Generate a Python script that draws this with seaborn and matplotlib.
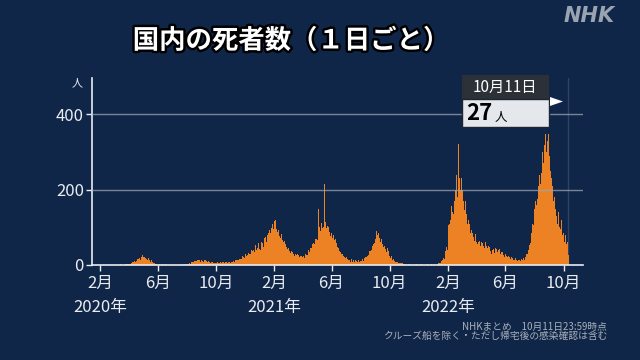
import seaborn as sns
import pandas as pd
import matplotlib.pyplot as plt
import matplotlib.dates as mdates
import matplotlib.patheffects as pe
import matplotlib.transforms as mtransforms
from matplotlib.patches import Rectangle, Polygon

# daily deaths, one line per month
deaths_2020 = (  # from Feb 1
    [0,0,0,0,0,0,0,0,0,0,0,0,1,0,0,0,0,0,0,1,0,1,0,0,1,0,0,1,0]
    + [1,0,1,1,0,1,1,0,1,2,1,2,1,0,2,1,1,2,1,2,1,1,2,0,3,2,1,2,1,3,4]
    + [3,5,2,4,3,6,5,4,8,6,7,9,6,10,12,9,14,11,10,16,13,17,15,19,14,12,20,22,18,26]
    + [29,22,18,16,20,24,19,21,17,14,12,15,18,16,13,10,8,9,12,10,8,7,5,6,4,5,3,2,3,2,1]
    + [1,2,0,1,2,1,0,1,0,1,2,1,0,1,0,1,0,2,18,1,0,1,0,1,2,0,1,0,1,0]
    + [1,0,0,1,0,1,0,1,0,1,0,0,1,1,0,1,0,1,0,1,0,1,2,0,1,1,2,3,2,1,3]
    + [2,1,3,4,2,5,6,4,3,5,7,6,8,9,7,5,10,12,9,11,13,10,8,12,15,13,14,12,10,9,13]
    + [12,14,11,9,8,10,13,11,9,12,14,10,8,7,9,11,13,9,7,6,5,8,10,7,6,5,4,6,8,7]
    + [6,5,4,7,8,6,5,4,6,8,7,5,4,6,7,5,8,6,4,3,5,7,6,8,5,4,6,7,9,8,6]
    + [5,7,8,6,9,11,10,8,7,12,14,11,9,13,15,12,10,14,18,16,13,17,20,15,22,24,19,21,26,18]
    + [24,30,28,33,25,22,27,35,32,38,30,34,28,26,40,44,36,42,39,31,35,48,52,45,50,41,38,46,54,58,49]
)
deaths_2021 = (
    [42,45,40,55,60,63,58,52,49,64,72,68,75,70,66,61,74,80,88,85,78,92,96,84,104,98,90,110,102,95,112]
    + [118,106,120,98,112,96,90,88,104,92,85,78,80,72,68,82,76,66,70,62,58,64,60,55,52,57,48,45]
    + [42,50,46,40,38,36,33,30,38,41,35,32,29,27,25,33,30,28,26,24,22,28,31,26,24,21,20,23,27,25,22]
    + [20,26,24,22,19,25,30,28,26,33,29,27,36,40,38,35,42,45,48,44,52,55,50,58,62,56,65,70,72,68]
    + [80,74,66,62,150,92,102,96,90,106,112,118,99,108,100,94,216,110,114,105,98,92,86,104,112,100,95,88,84,78,92]
    + [85,78,72,90,80,74,66,62,70,64,58,55,50,48,52,46,42,38,40,35,32,30,34,28,26,24,22,20,25,18]
    + [16,20,14,12,15,18,13,11,14,10,9,12,15,11,8,10,13,9,7,11,12,14,10,8,9,12,11,13,10,9,12]
    + [11,14,10,13,15,12,10,16,18,14,20,24,22,19,25,28,30,26,33,36,32,38,42,40,45,50,48,55,52,58,62]
    + [68,75,89,72,80,66,70,84,78,72,65,60,58,68,62,56,52,48,45,50,54,42,38,35,40,44,32,30,36,28]
    + [25,22,18,20,24,16,14,12,15,18,11,10,9,13,8,7,9,11,6,5,8,4,6,5,3,4,6,5,3,2,4]
    + [3,2,1,4,2,1,0,2,3,1,2,0,1,3,1,0,2,1,3,0,1,2,0,1,1,2,0,1,3,1]
    + [0,1,2,1,0,1,3,1,0,2,1,1,0,2,1,3,0,1,2,1,0,1,2,0,1,1,0,2,1,0,1]
)
deaths_2022 = (  # to Oct 11
    [1,0,2,1,0,2,1,3,2,1,4,3,5,4,6,5,8,10,12,13,16,18,20,15,30,36,42,48,54,40,62]
    + [105,98,89,110,130,120,115,157,150,140,120,135,128,170,236,200,230,240,236,180,210,322,260,250,230,245,200,185]
    + [230,220,200,190,170,150,145,160,170,150,135,125,110,100,120,130,110,95,90,85,80,92,100,85,80,75,70,65,78,82,70]
    + [60,58,55,52,62,68,65,58,54,50,48,60,64,58,52,50,48,45,55,62,56,50,48,44,42,50,55,48,44,40]
    + [38,35,30,34,40,45,42,36,32,38,44,48,42,38,34,30,40,46,42,36,32,30,28,34,38,35,30,27,25,22,28]
    + [30,28,25,22,20,18,24,26,22,20,18,16,15,20,22,18,16,14,13,12,16,18,15,13,12,11,109,14,16,12]
    + [13,11,10,12,15,14,12,16,18,15,14,20,22,25,28,24,30,34,40,46,52,60,58,66,72,85,100,110,120,105,140]
    + [150,165,170,180,160,155,175,200,210,230,240,220,215,260,250,245,280,300,290,270,255,320,310,347,340,300,290,330,310,347,320]
    + [290,300,250,260,220,230,270,210,190,170,160,180,200,150,140,130,120,110,115,140,130,100,90,95,85,110,120,95,80,75]
    + [85,70,60,90,80,75,55,45,60,50,27]
)

title = "国内の死者数（１日ごと）"
note1 = "NHKまとめ　10月11日23:59時点"
note2 = "クルーズ船を除く・ただし帰宅後の感染確認は含む"

bg = "#102648"
orange = "#ed8224"
fg = "#e9ecf0"

dates = (list(pd.date_range("2020-02-01", periods=len(deaths_2020)))
         + list(pd.date_range("2021-01-01", periods=len(deaths_2021)))
         + list(pd.date_range("2022-01-01", periods=len(deaths_2022))))
df = pd.DataFrame({"date": dates, "deaths": deaths_2020 + deaths_2021 + deaths_2022})
df["x"] = mdates.date2num(df["date"])

sns.set_theme(style="dark")
plt.rcParams["font.family"] = ["Noto Sans CJK JP", "DejaVu Sans"]

fig = plt.figure(figsize=(6.4, 3.6), dpi=100, facecolor=bg)
ax = fig.add_axes([0.1442, 0.2639, 0.767, 0.5186], facecolor=bg)

sns.histplot(data=df, x="x", weights="deaths", discrete=True, color=orange,
             alpha=1, linewidth=0, ax=ax, zorder=2)

last = df.iloc[-1]
ax.axvline(last["x"], color="#2c4366", lw=1, zorder=1)

for y in [200, 400]:
    ax.axhline(y, color="#9aa5b1", lw=1, alpha=0.75, zorder=3)

ax.set_xlim(mdates.date2num(pd.Timestamp("2020-01-16")), mdates.date2num(pd.Timestamp("2022-11-11")))
ax.set_ylim(0, 496)
ax.set_yticks([0, 200, 400])
ticks = pd.date_range("2020-02-01", "2022-10-01", freq="4MS")
ax.set_xticks(mdates.date2num(ticks))
ax.set_xticklabels([f"{d.month}月" for d in ticks])
ax.set_xlabel("")
ax.set_ylabel("")
ax.grid(False)

for s in ["top", "right"]:
    ax.spines[s].set_visible(False)
for s in ["left", "bottom"]:
    ax.spines[s].set_visible(True)
    ax.spines[s].set_color(fg)
    ax.spines[s].set_linewidth(1.2)
ax.tick_params(axis="both", colors=fg, labelcolor=fg, labelsize=12, length=4, width=1,
               direction="out", bottom=True, left=True)
ax.tick_params(axis="x", pad=3)
ax.tick_params(axis="y", pad=2)

trans = mtransforms.blended_transform_factory(ax.transData, ax.transAxes)
for d in ticks:
    if d.month == 2:
        ax.text(mdates.date2num(d), -0.23, f"{d.year}年", transform=trans,
                ha="center", va="center", fontsize=12, color=fg)


def px(x, y):
    return x / 640, 1 - y / 360


fig.text(*px(291, 41), title, ha="center", va="center", fontsize=19, fontweight="bold",
         color="white", path_effects=[pe.withStroke(linewidth=3.5, foreground="black")])
fig.text(*px(615, 16), "NHK", ha="right", va="center", fontsize=15, fontweight="heavy",
         style="italic", color="#9aa4b0", family="DejaVu Sans")
fig.text(*px(77, 83), "人", ha="center", va="center", fontsize=8, color=fg)
fig.text(*px(607, 327), note1, ha="right", va="center", fontsize=7, color="#a9b1bb")
fig.text(*px(607, 336), note2, ha="right", va="center", fontsize=7, color="#a9b1bb")

# tooltip for the latest day
fig.add_artist(Rectangle(px(461.7, 99.3), 87.3 / 640, 24.3 / 360, transform=fig.transFigure,
                         facecolor="#2b3137", edgecolor="none"))
fig.add_artist(Rectangle(px(461.7, 127.3), 87.3 / 640, 28 / 360, transform=fig.transFigure,
                         facecolor="#e4e7eb", edgecolor="#1d2530", lw=1))
fig.add_artist(Polygon([px(550, 97), px(550, 106), px(563, 101.5)], closed=True,
                       transform=fig.transFigure, facecolor="white", edgecolor="none"))
d = last["date"]
fig.text(*px(505, 87.5), f"{d.month}月{d.day}日", ha="center", va="center", fontsize=11, color="white")
fig.text(*px(466, 114), f"{last['deaths']}", ha="left", va="center", fontsize=16,
         fontweight="bold", color="black")
fig.text(*px(495, 118), "人", ha="left", va="center", fontsize=9, color="black")

fig.savefig("out.png", dpi=100, facecolor=bg)
